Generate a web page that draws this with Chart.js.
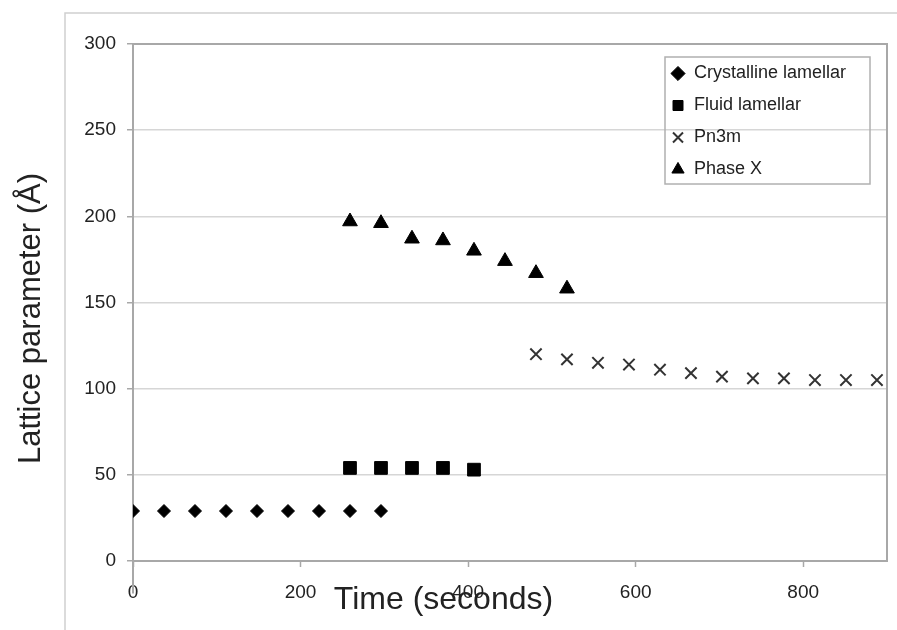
<!DOCTYPE html>
<html>
<head>
<meta charset="utf-8">
<script src="https://cdn.jsdelivr.net/npm/chart.js@4"></script>
<style>
  html, body { margin: 0; padding: 0; background: #fff; }
  #wrap { width: 897px; height: 630px; }
</style>
</head>
<body>
<div id="wrap"><canvas id="grafico" width="897" height="630"></canvas></div>
<script>
// =============================
// DATA
// =============================
const crystTime = [0, 37, 74, 111, 148, 185, 222, 259, 296];
const crystVal  = [29, 29, 29, 29, 29, 29, 29, 29, 29];

const fluidTime = [259, 296, 333, 370, 407];
const fluidVal  = [54, 54, 54, 54, 53];

const pn3mTime = [481, 518, 555, 592, 629, 666, 703, 740, 777, 814, 851, 888];
const pn3mVal  = [120, 117, 115, 114, 111, 109, 107, 106, 106, 105, 105, 105];

const phaseTime = [259, 296, 333, 370, 407, 444, 481, 518];
const phaseVal  = [197, 196, 187, 186, 180, 174, 167, 158];

const seriesNames = ["Crystalline lamellar", "Fluid lamellar", "Pn3m", "Phase X"];
const xTicks = [0, 200, 400, 600, 800];
const yTicks = [0, 50, 100, 150, 200, 250, 300];

function pares(xs, ys) {
  return xs.map((x, i) => ({ x: x, y: ys[i] }));
}

// =============================
// ESTILO
// =============================
Chart.defaults.font.family = '"Liberation Sans", Arial, sans-serif';
Chart.defaults.color = "#222";

const TITULO_X = 600;   // centro vertical do título do eixo x
const BORDA = "#a8a8a8";

// moldura, caixa da legenda e posição dos títulos
const moldura = {
  id: "moldura",
  afterLayout(chart) {
    const lg = chart.legend;
    lg.left = 657;
    lg.top = 50.5;
    lg.right = lg.left + lg.width;
    lg.bottom = lg.top + lg.height;

    const tb = chart.titleBlock;
    const h = tb.height;
    tb.top = TITULO_X - h / 2;
    tb.bottom = tb.top + h;

    // rótulos do eixo x não podem ser cortados pela caixa da escala
    chart.scales.x.bottom = chart.height;
    // título do eixo y um pouco abaixo do centro, como no original
    chart.scales.y.bottom = chart.chartArea.bottom + 32;
  },
  beforeDraw(chart) {
    const ctx = chart.ctx;
    ctx.save();
    ctx.strokeStyle = "#d0d0d0";
    ctx.lineWidth = 1.5;
    ctx.beginPath();
    ctx.moveTo(65, 630);
    ctx.lineTo(65, 13);
    ctx.lineTo(897, 13);
    ctx.stroke();
    ctx.restore();
  },
  beforeDatasetsDraw(chart) {
    const { ctx, chartArea: a } = chart;
    ctx.save();
    ctx.strokeStyle = BORDA;
    ctx.lineWidth = 2;
    ctx.strokeRect(a.left, a.top, a.right - a.left, a.bottom - a.top);
    ctx.strokeStyle = "#b0b0b0";
    ctx.lineWidth = 1.5;
    ctx.strokeRect(665, 57, 205, 127);
    ctx.restore();
  }
};

// =============================
// GRÁFICO
// =============================
const ctx = document.getElementById("grafico").getContext("2d");

new Chart(ctx, {
  type: "scatter",
  data: {
    datasets: [
      {
        label: seriesNames[0],
        data: pares(crystTime, crystVal),
        pointStyle: "rectRot",
        pointRadius: 6.5,
        backgroundColor: "#000",
        borderColor: "#000",
        borderWidth: 1
      },
      {
        label: seriesNames[1],
        data: pares(fluidTime, fluidVal),
        pointStyle: "rect",
        pointRadius: 9,
        backgroundColor: "#000",
        borderColor: "#000",
        borderWidth: 1
      },
      {
        label: seriesNames[2],
        data: pares(pn3mTime, pn3mVal),
        pointStyle: "crossRot",
        pointRadius: 8,
        backgroundColor: "#333",
        borderColor: "#333",
        borderWidth: 2
      },
      {
        label: seriesNames[3],
        data: pares(phaseTime, phaseVal),
        pointStyle: "triangle",
        pointRadius: 8.5,
        backgroundColor: "#000",
        borderColor: "#000",
        borderWidth: 1
      }
    ]
  },
  options: {
    responsive: false,
    animation: false,
    layout: { padding: { top: 44, right: 10, left: 0, bottom: 0 } },
    plugins: {
      legend: {
        position: "chartArea",
        align: "start",
        labels: {
          usePointStyle: true,
          boxWidth: 14,
          boxHeight: 10,
          padding: 14,
          color: "#222",
          font: { size: 18 }
        }
      },
      title: {
        display: true,
        position: "bottom",
        text: "Time (seconds)",
        color: "#222",
        padding: 0,
        font: { size: 32, weight: "normal" }
      },
      tooltip: { enabled: false }
    },
    scales: {
      x: {
        type: "linear",
        min: 0,
        max: 900,
        afterBuildTicks(scale) {
          scale.ticks = xTicks.map(v => ({ value: v }));
        },
        afterFit(scale) {
          scale.height = 630 - 561 - 38.4;
        },
        ticks: { color: "#222", font: { size: 19 }, padding: 14 },
        grid: { drawOnChartArea: false, tickLength: 6, tickColor: BORDA, tickWidth: 1.5 },
        border: { color: BORDA, width: 2 }
      },
      y: {
        min: 0,
        max: 300,
        afterBuildTicks(scale) {
          scale.ticks = yTicks.map(v => ({ value: v }));
        },
        afterFit(scale) {
          scale.width = 133;
        },
        title: {
          display: true,
          text: "Lattice parameter (Å)",
          color: "#222",
          padding: { top: 13, bottom: 0 },
          font: { size: 31 }
        },
        ticks: { color: "#222", font: { size: 19 }, padding: 11 },
        grid: { color: "#d6d6d6", lineWidth: 1.5, tickLength: 6, tickColor: BORDA },
        border: { color: BORDA, width: 2 }
      }
    }
  },
  plugins: [moldura]
});
</script>
</body>
</html>
